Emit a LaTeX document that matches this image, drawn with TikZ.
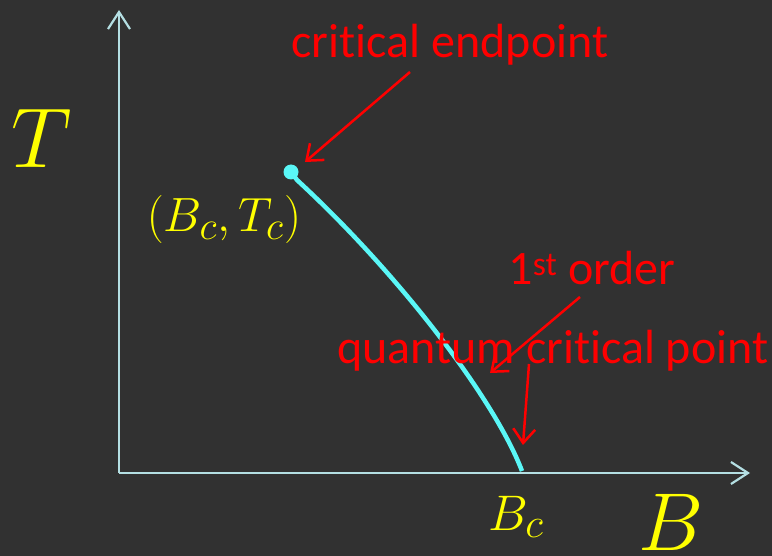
\documentclass[tikz,border=0pt]{standalone}
\usepackage{fontspec}
\newfontfamily\calibri[Ligatures={NoCommon}]{Carlito}
\usetikzlibrary{arrows.meta, positioning}
\definecolor{bgdark}{HTML}{313131}
\definecolor{axisblue}{HTML}{B4DFE3}
\definecolor{curvecyan}{HTML}{5AF7F7}
\definecolor{labelyellow}{HTML}{FFFF00}
\tikzstyle{axis} = [line width=2.2pt, draw=axisblue,
  -{Straight Barb[length=17pt,width=22pt]}]
\tikzstyle{pointer} = [line width=2.5pt, draw=red,
  -{Straight Barb[length=14pt,width=22pt]}]

\begin{document}
\begin{tikzpicture}[
        x=1pt, y=-1pt,
        note/.style={text=red, inner sep=0pt, anchor=base,
          font=\calibri\fontsize{48}{52}\selectfont},
        varlabel/.style={text=labelyellow, inner sep=0pt, anchor=base,
          font=\Huge},
        phaseline/.style={draw=curvecyan, line width=4.5pt},
        endpt/.style={circle, fill=curvecyan, inner sep=0pt, minimum size=15pt},
    ]
        \fill[bgdark] (0,0) rectangle (772,556);
        \useasboundingbox (0,0) rectangle (772,556);

        % axes
        \coordinate (origin) at (119,473);
        \coordinate (ytip) at (119,10);
        \coordinate (xtip) at (750,473);
        \draw[axis] (origin) -- (ytip);
        \draw[axis] (origin) -- (xtip);

        % first order line
        \node[endpt] (cep) at (291,172) {};
        \coordinate (qcp) at (522,471);
        \draw[phaseline] (cep.center) -- (297,180) .. controls (400,275) and (495,400) .. (qcp);

        % labels
        \node[varlabel, scale=3.42] (tlabel) at (42,168) {$T$};
        \node[varlabel, scale=3.3] (blabel) at (671,550) {$B$};
        \node[varlabel, scale=1.93] (cepvalue) at (224,232) {$(B_c,T_c)$};
        \node[varlabel, scale=2.01] (bcvalue) at (516,530) {$B_c$};

        \node[note] (cepnote) at (450,58) {critical endpoint};
        \node[note] (ordernote) at (592,285) {1\textsuperscript{st} order};
        \node[note] (qcpnote) at (553,363) {quantum critical point};

        \coordinate (cepfrom) at (410,72);
        \coordinate (cepto) at (305,162);
        \coordinate (orderfrom) at (580,297);
        \coordinate (orderto) at (490,373);
        \coordinate (qcpfrom) at (529,364);
        \coordinate (qcpto) at (523,445);
        \draw[pointer] (cepfrom) -- (cepto);
        \draw[pointer] (orderfrom) -- (orderto);
        \draw[pointer] (qcpfrom) -- (qcpto);
    \end{tikzpicture}
\end{document}
